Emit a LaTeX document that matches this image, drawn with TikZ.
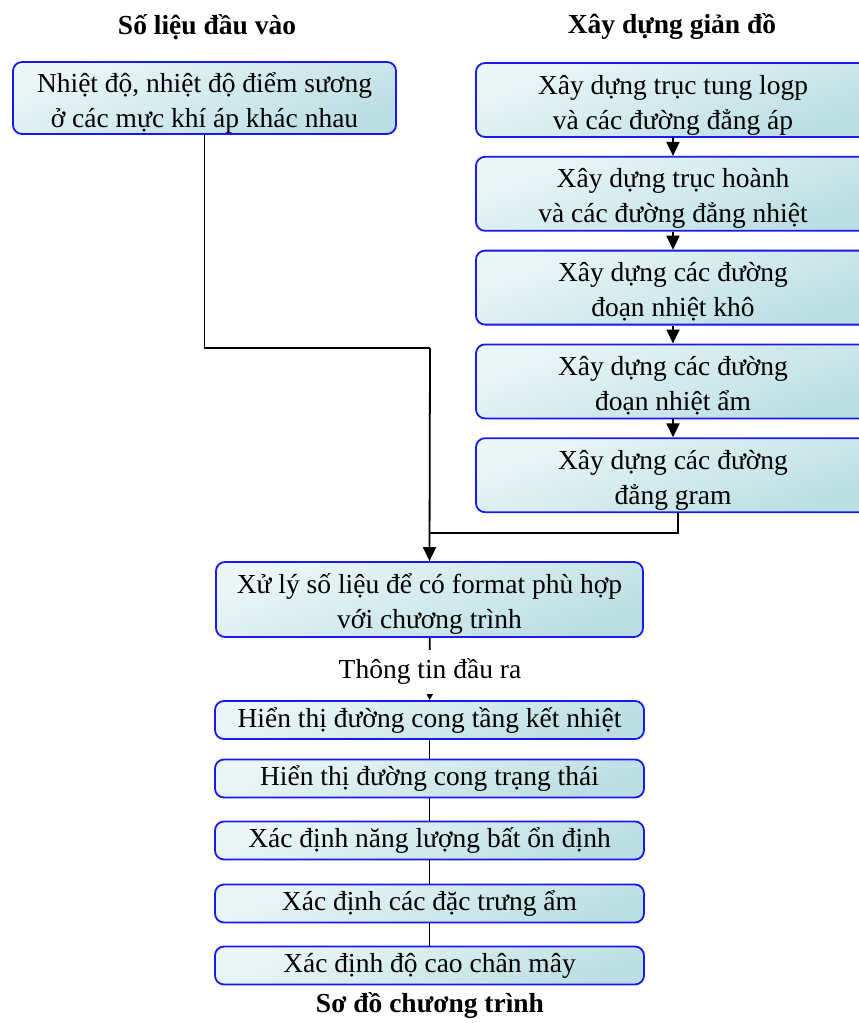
\documentclass[tikz,border=0pt]{standalone}
\usepackage{fontspec}
\setmainfont{Liberation Serif}
\usetikzlibrary{arrows.meta,calc,positioning}
\definecolor{boxblue}{RGB}{25,25,235}
\definecolor{boxlight}{RGB}{236,246,247}
\definecolor{boxdark}{RGB}{186,222,226}
\newcommand\boxfont{\fontsize{27.5}{35}\selectfont}
% two lines of text, kept at the same height in every box
\newcommand\boxlines[2]{\rule{0pt}{30pt}#1\\#2\rule[-7pt]{0pt}{7pt}}

\tikzset{
  stepbox/.style={draw=boxblue,line width=1.8pt,rounded corners=9pt,
    top color=boxlight,bottom color=boxdark,shading angle=20,
    align=center,font=\boxfont,inner xsep=2pt,inner ysep=0pt},
  buildbox/.style={stepbox,minimum width=394pt,minimum height=74pt},
  showbox/.style={stepbox,minimum width=429pt,minimum height=38pt},
  headtext/.style={font=\boxfont\bfseries,inner sep=0pt},
  link/.style={line width=1.8pt},
  flow/.style={link,-{Triangle[width=13pt,length=14pt]}}
}

\begin{document}
\begin{tikzpicture}[x=1pt,y=-1pt]
	\useasboundingbox (0,0) rectangle (859,1023);

	% column titles
	\node[headtext] (inhead) at (207,27) {Số liệu đầu vào};
	\node[headtext] (dghead) at (672,27) {Xây dựng giản đồ};

	% input data
	\node[stepbox,minimum width=383pt,minimum height=70pt] (input) at (204.5,98)
	  {\boxlines{Nhiệt độ, nhiệt độ điểm sương}{ở các mực khí áp khác nhau}};

	% building the diagram
	\node[buildbox] (logp) at (673,100) {\boxlines{Xây dựng trục tung logp}{và các đường đẳng áp}};
	\node[buildbox,below=18pt of logp] (hoanh) {\boxlines{Xây dựng trục hoành}{và các đường đẳng nhiệt}};
	\node[buildbox,below=18pt of hoanh] (kho) {\boxlines{Xây dựng các đường}{đoạn nhiệt khô}};
	\node[buildbox,below=18pt of kho] (am) {\boxlines{Xây dựng các đường}{đoạn nhiệt ẩm}};
	\node[buildbox,below=18pt of am] (gram) {\boxlines{Xây dựng các đường}{đẳng gram}};

	\foreach \From/\To in {logp/hoanh,hoanh/kho,kho/am,am/gram}
	  \draw[flow] (\From) -- (\To);

	% processing
	\node[stepbox,minimum width=427pt,minimum height=75pt] (proc) at (429.5,599.5)
	  {\boxlines{Xử lý số liệu để có format phù hợp}{với chương trình}};

	\coordinate (joinin) at (430,348);
	\coordinate (joindg) at (430,533);
	\draw[link] (input.south) |- (joinin);
	\draw[link] ([xshift=5pt]gram.south) |- (joindg);
	\draw[flow] (joinin) -- (proc.north);

	% output
	\node[font=\boxfont,inner sep=0pt,minimum height=44pt] (outlbl) at (430,672) {Thông tin đầu ra};
	\node[showbox] (show1) at (429.5,720) {Hiển thị đường cong tầng kết nhiệt};
	\node[showbox] (show2) at (429.5,778.5) {Hiển thị đường cong trạng thái};
	\node[showbox] (show3) at (429.5,840.5) {Xác định năng lượng bất ổn định};
	\node[showbox] (show4) at (429.5,903.5) {Xác định các đặc trưng ẩm};
	\node[showbox] (show5) at (429.5,965.5) {Xác định độ cao chân mây};

	\draw[link] (proc) -- (outlbl);
	\draw[link,-{Triangle[width=6pt,length=6pt]}] (outlbl) -- (show1);
	\foreach \From/\To in {show1/show2,show2/show3,show3/show4,show4/show5}
	  \draw[link] (\From) -- (\To);

	\node[headtext] (caption) at (430,1006) {Sơ đồ chương trình};
\end{tikzpicture}
\end{document}
